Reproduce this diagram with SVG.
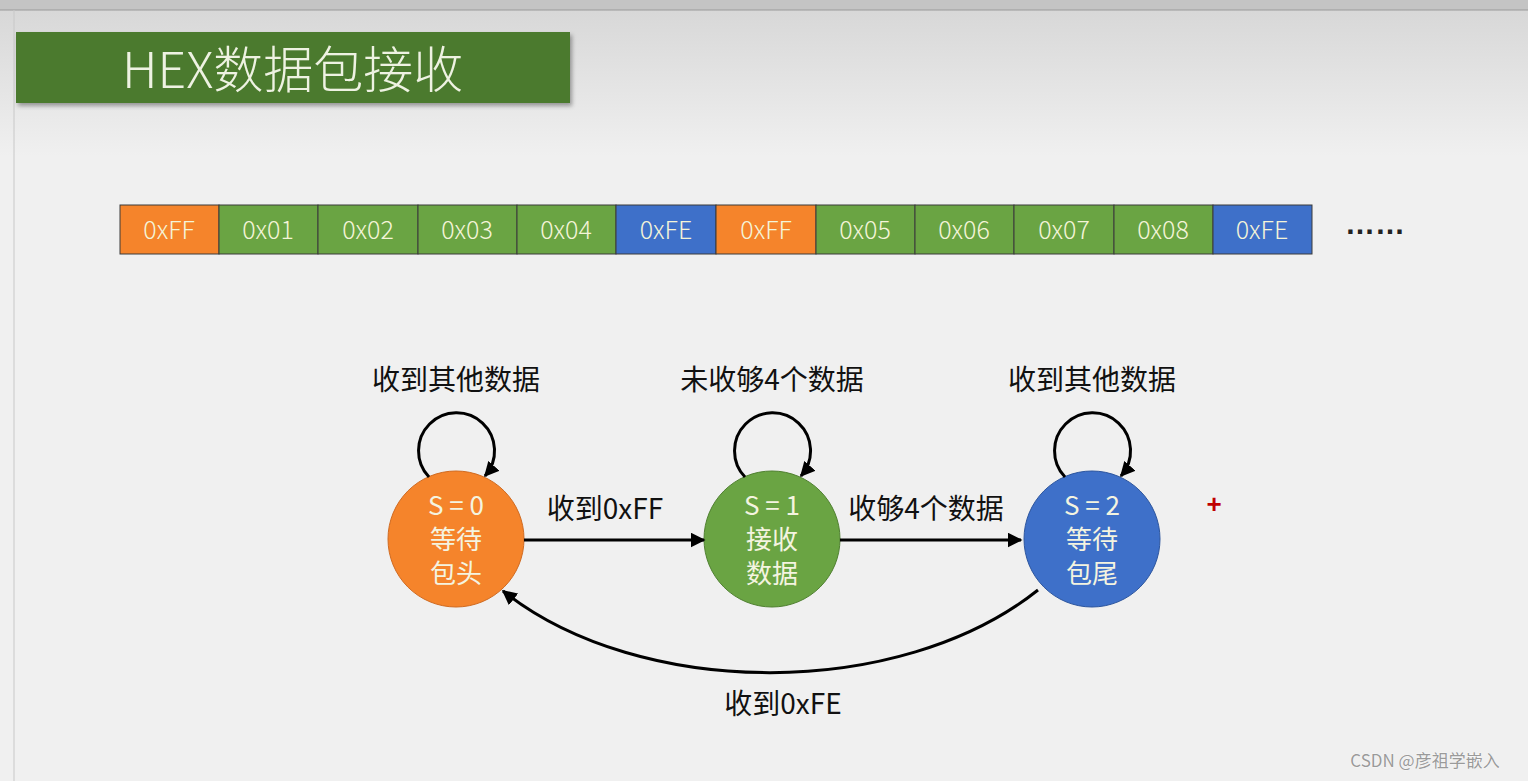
<svg xmlns="http://www.w3.org/2000/svg" width="1528" height="781" viewBox="0 0 1528 781">
<defs>
<linearGradient id="bg" x1="0" y1="0" x2="0" y2="1">
<stop offset="0" stop-color="#d6d6d6"/>
<stop offset="0.2" stop-color="#f0f0f0"/>
<stop offset="1" stop-color="#f0f0f0"/>
</linearGradient>
<marker id="ah" viewBox="0 0 10 10" refX="9" refY="5" markerWidth="5" markerHeight="5" orient="auto" markerUnits="strokeWidth">
<path d="M0,0 L10,5 L0,10 z" fill="#000"/>
</marker>
<filter id="sh" x="-5%" y="-10%" width="110%" height="130%">
<feDropShadow dx="2" dy="3" stdDeviation="2" flood-color="#000" flood-opacity="0.35"/>
</filter>
</defs>
<style>
.cell{stroke:#3a3a3a;stroke-width:1}
.or{fill:#f5842b}.gr{fill:#6aa443}.bl{fill:#3e70c9}
.ht{font-family:"Noto Sans CJK SC","Liberation Sans",sans-serif;font-size:25px;fill:#f4f4d8;text-anchor:middle;font-weight:300}
.st{font-family:"Noto Sans CJK SC","Liberation Sans",sans-serif;font-size:26px;fill:#f4f4e0;text-anchor:middle}
.lb{font-family:"Noto Sans CJK SC","Liberation Sans",sans-serif;font-size:28px;fill:#111;text-anchor:middle}
.ln{fill:none;stroke:#000;stroke-width:3;marker-end:url(#ah)}
</style>
<rect x="0" y="0" width="1528" height="781" fill="url(#bg)"/>
<rect x="0" y="0" width="1528" height="10" fill="#c4c4c4"/>
<line x1="0" y1="10" x2="1528" y2="10" stroke="#9a9a9a" stroke-width="1"/>
<line x1="14" y1="10" x2="14" y2="781" stroke="#c8c8c8" stroke-width="1"/>

<g id="title">
<rect x="16" y="32" width="554" height="71" fill="#4b7a2e" filter="url(#sh)"/>
<text x="122" y="88" font-family="'Noto Sans CJK SC','Liberation Sans',sans-serif" font-size="50" font-weight="300" fill="#eef2e2">HEX数据包接收</text>
</g>

<g id="bytes">
<rect class="cell or" x="120" y="205" width="99" height="49"/>
<rect class="cell gr" x="219" y="205" width="99" height="49"/>
<rect class="cell gr" x="318" y="205" width="100" height="49"/>
<rect class="cell gr" x="418" y="205" width="99" height="49"/>
<rect class="cell gr" x="517" y="205" width="99" height="49"/>
<rect class="cell bl" x="616" y="205" width="100" height="49"/>
<rect class="cell or" x="716" y="205" width="100" height="49"/>
<rect class="cell gr" x="816" y="205" width="99" height="49"/>
<rect class="cell gr" x="915" y="205" width="99" height="49"/>
<rect class="cell gr" x="1014" y="205" width="100" height="49"/>
<rect class="cell gr" x="1114" y="205" width="99" height="49"/>
<rect class="cell bl" x="1213" y="205" width="99" height="49"/>
<text class="ht" x="169" y="239">0xFF</text>
<text class="ht" x="268" y="239">0x01</text>
<text class="ht" x="368" y="239">0x02</text>
<text class="ht" x="467" y="239">0x03</text>
<text class="ht" x="566" y="239">0x04</text>
<text class="ht" x="666" y="239">0xFE</text>
<text class="ht" x="766" y="239">0xFF</text>
<text class="ht" x="865" y="239">0x05</text>
<text class="ht" x="964" y="239">0x06</text>
<text class="ht" x="1064" y="239">0x07</text>
<text class="ht" x="1163" y="239">0x08</text>
<text class="ht" x="1262" y="239">0xFE</text>
<text x="1375" y="234" font-family="'Liberation Sans',sans-serif" font-size="30" font-weight="bold" fill="#222" text-anchor="middle">……</text>
</g>

<g id="s0">
<circle cx="456" cy="539" r="68" class="or" stroke="#d06a20" stroke-width="1"/>
<text class="st" x="456" y="515">S = 0</text>
<text class="st" x="456" y="549">等待</text>
<text class="st" x="456" y="583">包头</text>
</g>
<g id="s1">
<circle cx="772" cy="539" r="68" class="gr" stroke="#4f8030" stroke-width="1"/>
<text class="st" x="772" y="515">S = 1</text>
<text class="st" x="772" y="549">接收</text>
<text class="st" x="772" y="583">数据</text>
</g>
<g id="s2">
<circle cx="1092" cy="539" r="68" class="bl" stroke="#2c559e" stroke-width="1"/>
<text class="st" x="1092" y="515">S = 2</text>
<text class="st" x="1092" y="549">等待</text>
<text class="st" x="1092" y="583">包尾</text>
</g>

<g id="connectors">
<path class="ln" d="M 429 477 A 38 38 0 1 1 485 476"/>
<path class="ln" d="M 745 477 A 38 38 0 1 1 801 476"/>
<path class="ln" d="M 1065 477 A 38 38 0 1 1 1121 476"/>
<path class="ln" d="M 524 540 L 704 540"/>
<path class="ln" d="M 840 540 L 1021 540"/>
<path class="ln" d="M 1038 590 C 900 700 640 700 503 591"/>
</g>

<g id="labels">
<text class="lb" x="456" y="390">收到其他数据</text>
<text class="lb" x="772" y="390">未收够4个数据</text>
<text class="lb" x="1092" y="390">收到其他数据</text>
<text class="lb" x="605" y="519">收到0xFF</text>
<text class="lb" x="926" y="519">收够4个数据</text>
<text class="lb" x="783" y="714">收到0xFE</text>
</g>

<text x="1214" y="513" font-family="'Liberation Sans',sans-serif" font-size="26" font-weight="bold" fill="#c00000" text-anchor="middle">+</text>
<text x="1425" y="767" font-family="'Noto Sans CJK SC','Liberation Sans',sans-serif" font-size="17" fill="#9a9a9a" stroke="#ffffff" stroke-width="0.6" paint-order="stroke" text-anchor="middle">CSDN @彦祖学嵌入</text>
</svg>
